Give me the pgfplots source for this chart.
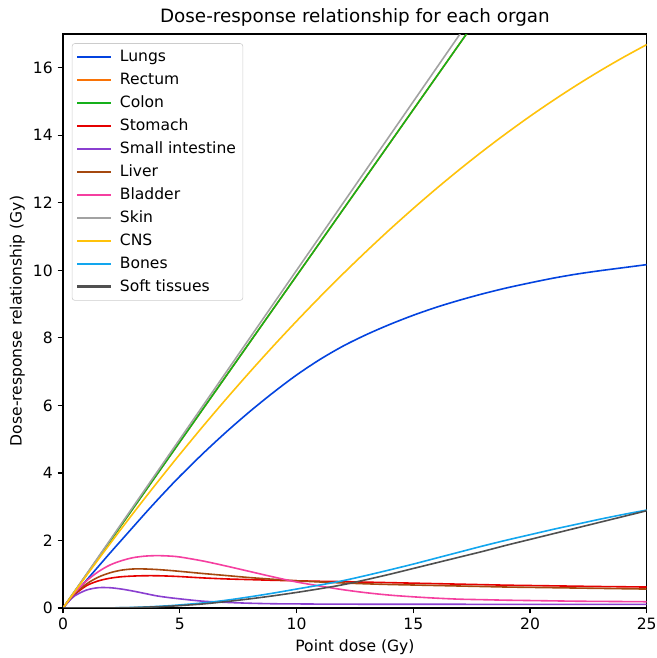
\documentclass[border=0pt]{standalone}
\usepackage{fontspec}
\setmainfont{DejaVu Sans}
\usepackage{pgfplots}
\usepackage{pgfplotstable}
\pgfplotsset{compat=1.18}

\definecolor{cLungs}{HTML}{0343DF}
\definecolor{cRectum}{HTML}{F97306}
\definecolor{cColon}{HTML}{15B01A}
\definecolor{cStomach}{HTML}{E50000}
\definecolor{cSmall}{HTML}{8A3FD0}
\definecolor{cLiver}{HTML}{A5480F}
\definecolor{cBladder}{HTML}{F53FA0}
\definecolor{cSkin}{HTML}{A2A2A2}
\definecolor{cCNS}{HTML}{FFC20A}
\definecolor{cBones}{HTML}{12A6EE}
\definecolor{cSoft}{HTML}{505050}

\pgfplotstableread{
x     lungs  rectum colon  stomach small liver bladder skin  cns    bones soft
0     0      0      0      0       0     0     0       0     0      0     0
0.25  0.21   0.246  0.246  0.22    0.20  0.23  0.24    0.25  0.242  0     0
0.5   0.42   0.492  0.492  0.40    0.36  0.42  0.45    0.5   0.482  0     0
1     0.82   0.984  0.984  0.66    0.53  0.71  0.80    1     0.959  0     0
1.5   1.22   1.476  1.476  0.80    0.60  0.91  1.07    1.5   1.429  0.001 0.001
2     1.62   1.968  1.968  0.88    0.60  1.04  1.27    2     1.893  0.003 0.002
2.5   2.01   2.46   2.46   0.925   0.56  1.12  1.40    2.5   2.352  0.008 0.006
3     2.40   2.952  2.952  0.945   0.50  1.155 1.49    3     2.804  0.015 0.012
3.5   2.79   3.444  3.444  0.955   0.43  1.155 1.535   3.5   3.250  0.028 0.022
4     3.17   3.936  3.936  0.955   0.36  1.14  1.55    4     3.690  0.045 0.035
4.5   3.54   4.428  4.428  0.945   0.31  1.115 1.54    4.5   4.124  0.065 0.05
5     3.90   4.92   4.92   0.93    0.27  1.085 1.51    5     4.552  0.09  0.07
6     4.58   5.904  5.904  0.89    0.20  1.02  1.39    6     5.389  0.15  0.12
7     5.22   6.888  6.888  0.86    0.165 0.96  1.24    7     6.202  0.23  0.19
8     5.82   7.872  7.872  0.84    0.14  0.90  1.08    8     6.991  0.33  0.27
9     6.38   8.856  8.856  0.82    0.125 0.85  0.92    9     7.756  0.44  0.36
10    6.90   9.84   9.84   0.805   0.12  0.805 0.77    10    8.496  0.56  0.46
11    7.36   10.824 10.824 0.79    0.115 0.77  0.65    11    9.212  0.68  0.57
12    7.76   11.808 11.808 0.78    0.113 0.74  0.54    12    9.904  0.81  0.69
13    8.10   12.792 12.792 0.765   0.111 0.715 0.45    13    10.571 0.965 0.84
14    8.40   13.776 13.776 0.75    0.110 0.695 0.38    14    11.215 1.13  1.00
15    8.67   14.76  14.76  0.735   0.110 0.68  0.33    15    11.833 1.30  1.17
16    8.91   15.744 15.744 0.72    0.109 0.665 0.29    16    12.428 1.48  1.34
17    9.12   16.728 16.728 0.705   0.109 0.65  0.26    17    12.999 1.66  1.51
18    9.31   17.712 17.712 0.69    0.108 0.635 0.245   18    13.545 1.84  1.68
19    9.48   18.696 18.696 0.675   0.108 0.62  0.23    19    14.066 2.01  1.86
20    9.63   19.68  19.68  0.665   0.107 0.61  0.22    20    14.564 2.17  2.03
21    9.77   20.664 20.664 0.655   0.107 0.60  0.21    21    15.037 2.33  2.20
22    9.89   21.648 21.648 0.645   0.106 0.59  0.20    22    15.486 2.48  2.37
23    9.99   22.632 22.632 0.635   0.106 0.58  0.195   23    15.911 2.63  2.54
24    10.08  23.616 23.616 0.628   0.105 0.57  0.19    24    16.311 2.77  2.71
25    10.17  24.6   24.6   0.62    0.105 0.56  0.185   25    16.688 2.90  2.88
}\data

\begin{document}
\begin{tikzpicture}
\begin{axis}[
  width=420pt, height=413pt, scale only axis,
  xmin=0, xmax=25, ymin=0, ymax=17,
  xtick={0,5,...,25}, ytick={0,2,...,16},
  tick align=outside, xtick pos=bottom, ytick pos=left,
  major tick length=3.9pt,
  every tick/.style={black, line width=0.85pt},
  axis line style={line width=0.85pt},
  /pgf/number format/assume math mode=true,
  ticklabel style={font=\fontsize{11.2}{13}\selectfont},
  title={Dose-response relationship for each organ},
  title style={font=\fontsize{13.2}{15}\selectfont, yshift=-4pt},
  xlabel={Point dose (Gy)},
  ylabel={Dose-response relationship (Gy)},
  label style={font=\fontsize{11.2}{13}\selectfont},
  ylabel style={yshift=-1pt},
  legend cell align=left,
  legend image post style={xscale=1.4, line width=1.5pt},
  legend style={at={(rel axis cs:0.015,0.984)}, anchor=north west,
    draw={rgb,255:red,204;green,204;blue,204}, rounded corners=2pt,
    font=\fontsize{11.2}{13}\selectfont, row sep=2.6pt, column sep=4pt,
    inner xsep=3pt, inner ysep=3pt},
  every axis plot/.append style={line width=1.15pt},
  clip=true,
]
\addplot[cLungs, smooth] table[x=x,y=lungs]{\data};
\addlegendentry{Lungs}
\addplot[cRectum, smooth] table[x=x,y=rectum]{\data};
\addlegendentry{Rectum}
\addplot[cColon, smooth] table[x=x,y=colon]{\data};
\addlegendentry{Colon}
\addplot[cStomach, smooth] table[x=x,y=stomach]{\data};
\addlegendentry{Stomach}
\addplot[cSmall, smooth] table[x=x,y=small]{\data};
\addlegendentry{Small intestine}
\addplot[cLiver, smooth] table[x=x,y=liver]{\data};
\addlegendentry{Liver}
\addplot[cBladder, smooth] table[x=x,y=bladder]{\data};
\addlegendentry{Bladder}
\addplot[cSkin, smooth] table[x=x,y=skin]{\data};
\addlegendentry{Skin}
\addplot[cCNS, smooth] table[x=x,y=cns]{\data};
\addlegendentry{CNS}
\addplot[cBones, smooth] table[x=x,y=bones]{\data};
\addlegendentry{Bones}
\addplot[cSoft, smooth] table[x=x,y=soft]{\data};
\addlegendentry{Soft tissues}
\end{axis}
\pgfresetboundingbox
\path ([shift={(-45.4pt,-36pt)}]current axis.south west) rectangle ([shift={(7.2pt,24.5pt)}]current axis.north east);
\end{tikzpicture}
\end{document}
